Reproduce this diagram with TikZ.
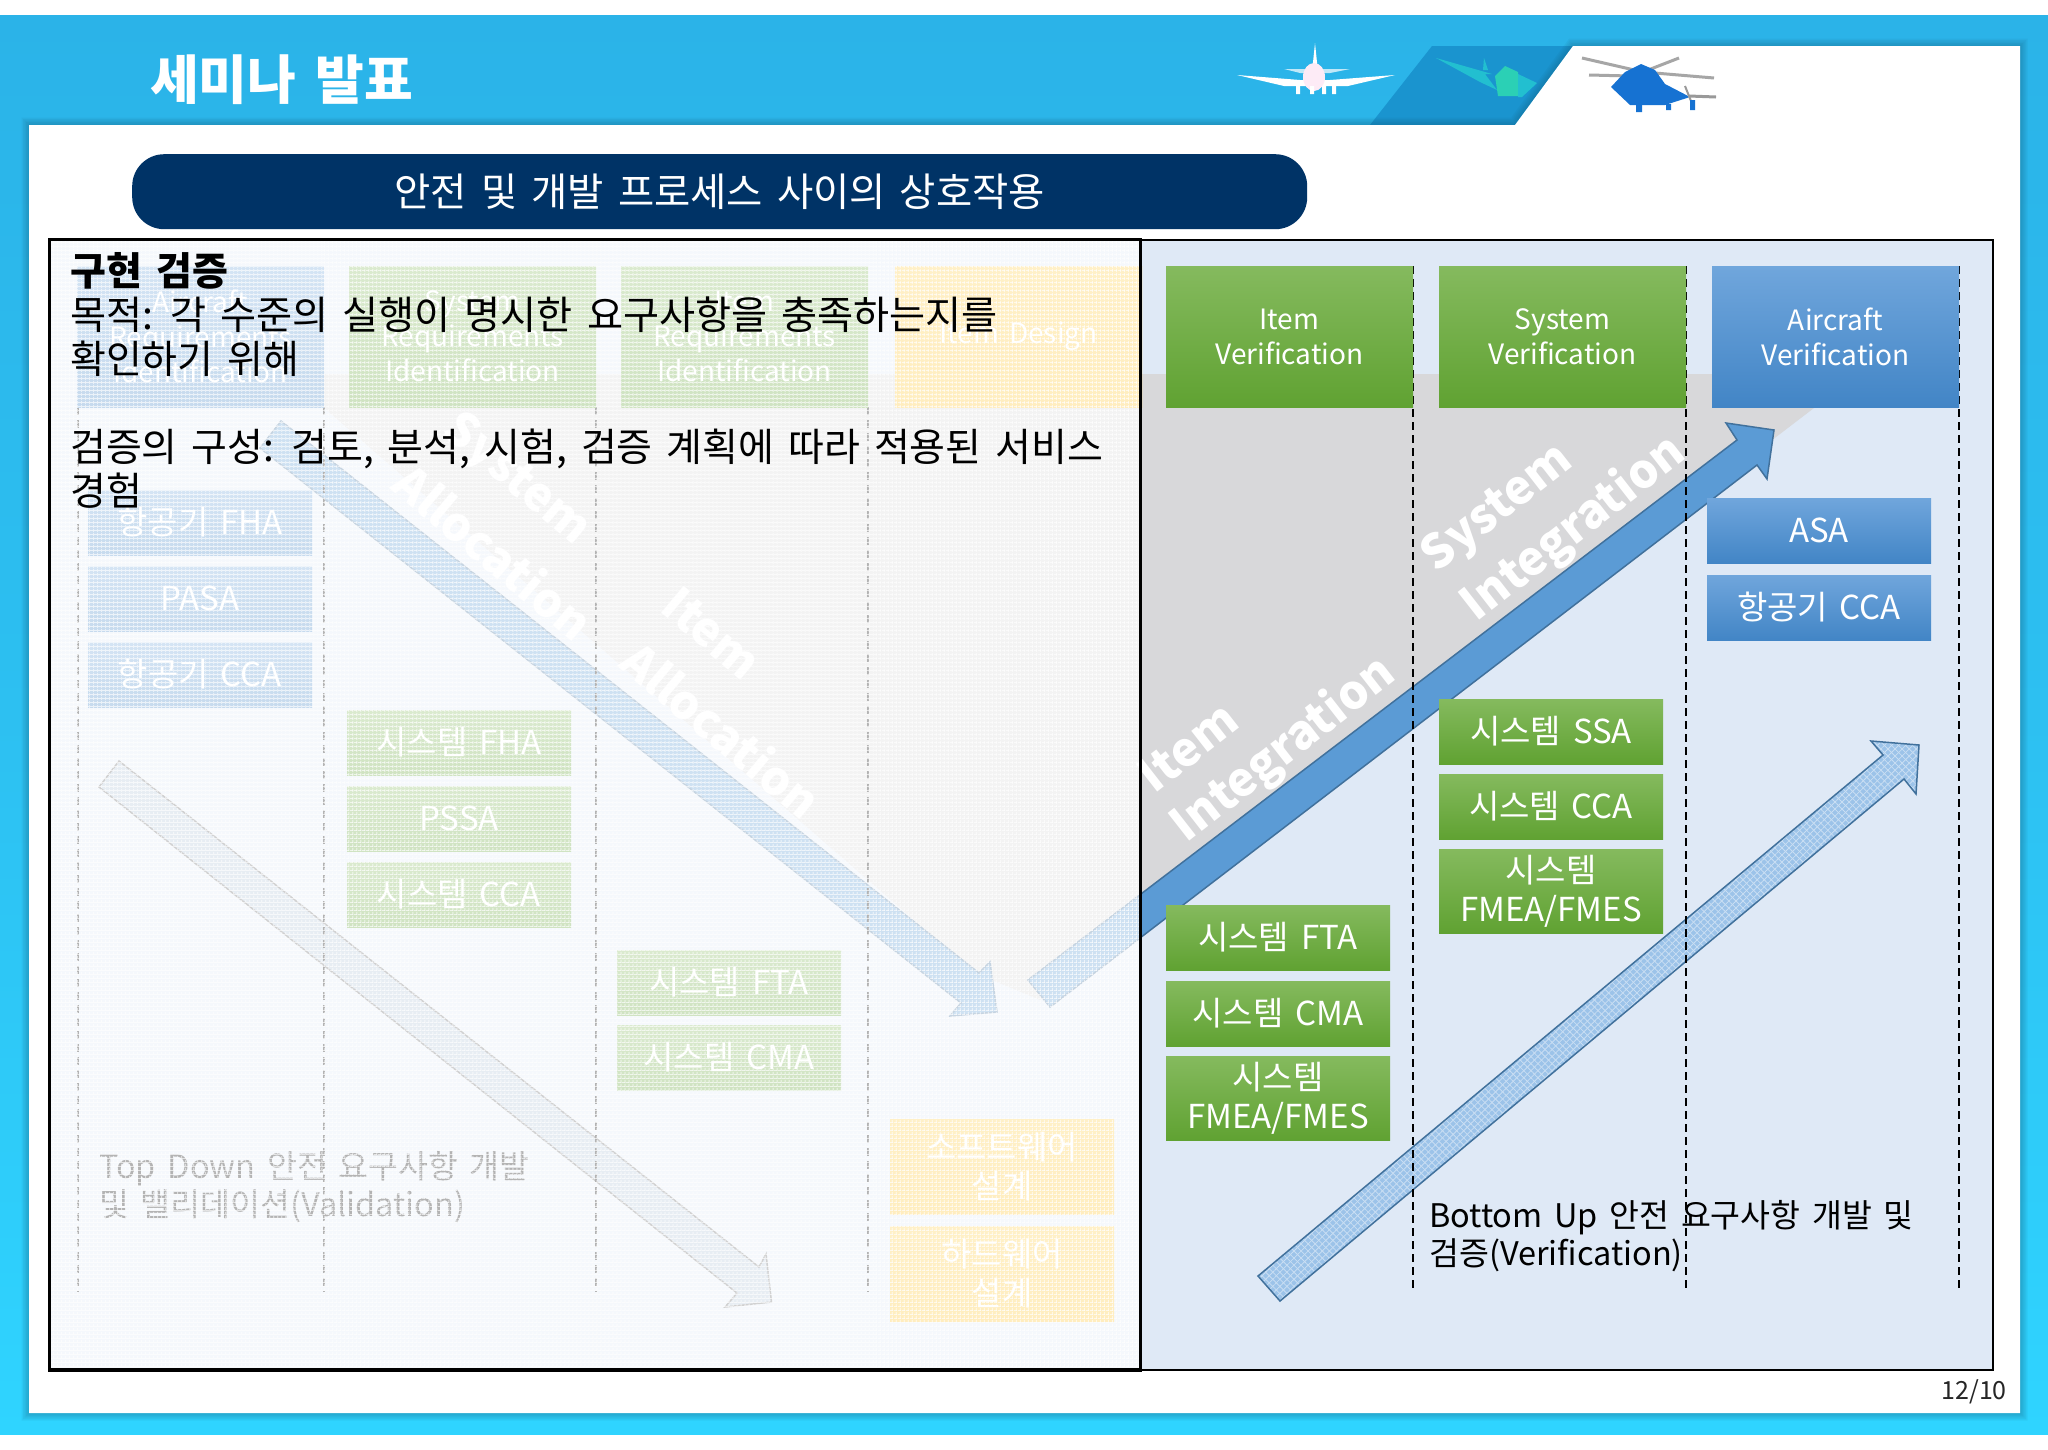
\documentclass[tikz,border=0pt]{standalone}
\usepackage{fontspec}
\setmainfont[WordSpace=1.6]{Noto Sans CJK KR}
\usetikzlibrary{shapes.geometric,patterns.meta}
\definecolor{bgtop}{HTML}{2BB3E8}
\definecolor{bgbot}{HTML}{2FD4FF}
\definecolor{bandc}{HTML}{1A94CF}
\definecolor{navy}{HTML}{003366}
\definecolor{panelc}{HTML}{DFE9F6}
\definecolor{greyc}{HTML}{D8D8DA}
\definecolor{gtop}{HTML}{85BA5E}
\definecolor{gbot}{HTML}{60A232}
\definecolor{btop}{HTML}{70A6DC}
\definecolor{bbot}{HTML}{4285C6}
\definecolor{ytop}{HTML}{FFCE45}
\definecolor{ybot}{HTML}{FFC52A}
\definecolor{arrowc}{HTML}{5B9BD5}
\definecolor{arrowe}{HTML}{41719C}
\definecolor{lightc}{HTML}{9CC3E9}
\definecolor{paleg}{HTML}{AFC3DA}
\definecolor{shadec}{HTML}{145F7E}
\definecolor{heli}{HTML}{1672D2}
\definecolor{tealw}{HTML}{22BFD0}
\definecolor{tealb}{HTML}{2BD0B5}
\tikzset{
  x=1pt,y=-1pt,
  base/.style={rectangle,inner sep=0pt,outer sep=0pt,text=white,align=center,anchor=north west},
  head/.style={base,minimum width=247pt,minimum height=141pt,font=\fontsize{28}{35}\selectfont},
  small/.style={base,minimum width=224pt,minimum height=65pt,font=\fontsize{33}{39}\selectfont},
  greenf/.style={top color=gtop,bottom color=gbot},
  bluef/.style={top color=btop,bottom color=bbot},
  yellowf/.style={top color=ytop,bottom color=ybot},
  guide/.style={draw=black,line width=1.8pt,dash pattern=on 8pt off 5pt},
  sweep/.style={text=white,font=\fontsize{47}{54}\selectfont\bfseries,inner sep=0pt},
  plain/.style={anchor=west,inner sep=0pt,text=black,font=\fontsize{39}{44}\selectfont},
  note/.style={anchor=west,inner sep=0pt,text=black,font=\fontsize{32.5}{38}\selectfont},
}
\begin{document}
\begin{tikzpicture}
\useasboundingbox (0,0) rectangle (2048,1449);
\fill[white] (0,0) rectangle (2048,1449);
% slide background
\shade[top color=bgtop,bottom color=bgbot,middle color=bgtop!60!bgbot] (0,15) rectangle (2048,1434);
\fill[bandc] (1432,46) -- (1573,46) -- (1515,125) -- (1370,125) -- cycle;
% panel shadow
\foreach \w in {3,6,9,12,15}{
  \draw[shadec,opacity=0.08,line width=\w pt,line join=miter]
    (29,125) -- (1515,125) -- (1573,46) -- (2020,46) -- (2020,1413) -- (29,1413) -- cycle;}
% white panel
\fill[white] (29,125) -- (1515,125) -- (1573,46) -- (2020,46) -- (2020,1413) -- (29,1413) -- cycle;
% airliner
\fill[white] (1315,43) -- (1318,72) -- (1312,72) -- cycle;
\fill[white!70!bgtop] (1284,69) -- (1350,69) -- (1330,73) -- (1300,73) -- cycle;
\fill[white] (1237,75) -- (1300,80) -- (1330,80) -- (1395,75) -- (1348,86) -- (1284,86) -- cycle;
\fill[white!92!magenta] (1314,77) ellipse [x radius=11,y radius=14];
\fill[white] (1296,86) rectangle (1300,94) (1310,86) rectangle (1314,94) (1322,86) rectangle (1326,94) (1332,86) rectangle (1336,94);
% teal aircraft
\fill[tealw] (1436,58) -- (1492,74) -- (1485,74) -- (1497,90) -- (1480,82) -- cycle;
\fill[tealw] (1483,70) -- (1484,58) -- (1488,70) -- cycle;
\fill[tealb] (1495,76) -- (1505,66) -- (1518,72) -- (1518,96) -- (1498,96) -- cycle;
\fill[tealw] (1518,74) -- (1537,83) -- (1522,97) -- (1518,97) -- cycle;
% helicopter
\draw[gray!70,line width=3pt] (1582,58) -- (1643,72) -- (1679,58) (1643,72) -- (1714,78) (1589,75) -- (1630,76);
\fill[heli] (1611,87) -- (1625,72) -- (1641,64) -- (1655,70) -- (1665,84) -- (1690,97) -- (1665,105) -- (1630,105) -- cycle;
\draw[gray!80,line width=3pt] (1689,96) -- (1716,97);
\draw[gray!80,line width=2pt] (1685,86) -- (1693,106);
\fill[heli] (1636,104) rectangle (1642,112) (1666,104) rectangle (1671,110) (1690,100) rectangle (1695,110);

% title and banner
\node[text=white,anchor=west,inner sep=0pt,font=\fontsize{53}{60}\selectfont\bfseries] (title) at (150,80) {세미나 발표};
\node[fill=navy,rounded corners=32pt,minimum width=1175pt,minimum height=75pt,anchor=north west,inner sep=0pt,text=white,font=\fontsize{39.4}{44}\selectfont] (banner) at (132,154) {안전 및 개발 프로세스 사이의 상호작용};

% diagram ground (left half is veiled below)
\fill[panelc] (49,240) rectangle (1993,1370);
\fill[greyc] (285,374) -- (1712,374) -- (1712,408) -- (1814,408) -- (1040,1000) -- (975,973) -- cycle;

% arrows
\draw[fill=arrowc,draw=arrowe,line width=1.5pt] (281,421) -- (979,973) -- (990,962) -- (997,1012) -- (950,1016) -- (961,1003) -- (260,448) -- cycle;
\draw[fill=paleg,draw=black!60,line width=1.5pt] (119,761) -- (759,1267) -- (766,1254) -- (771.5,1302) -- (725,1307) -- (737,1293) -- (99,787) -- cycle;
\draw[fill=arrowc,draw=arrowe,line width=1.5pt] (1028,980) -- (1737,440) -- (1726,423) -- (1774,430) -- (1767,479) -- (1757,465) -- (1050,1007) -- cycle;
\path[fill=lightc] (1258,1276) -- (1883,755) -- (1871,741) -- (1919,745) -- (1916,794) -- (1904,779) -- (1280,1301) -- cycle;
\path[pattern={Lines[angle=45,distance=5pt,line width=0.8pt]},pattern color=white!45!lightc] (1258,1276) -- (1883,755) -- (1871,741) -- (1919,745) -- (1916,794) -- (1904,779) -- (1280,1301) -- cycle;
\path[pattern={Lines[angle=-45,distance=5pt,line width=0.8pt]},pattern color=white!45!lightc] (1258,1276) -- (1883,755) -- (1871,741) -- (1919,745) -- (1916,794) -- (1904,779) -- (1280,1301) -- cycle;
\draw[draw=arrowe,line width=1.5pt] (1258,1276) -- (1883,755) -- (1871,741) -- (1919,745) -- (1916,794) -- (1904,779) -- (1280,1301) -- cycle;

% column guides
\foreach \gx in {78,324,596,868}{\draw[guide] (\gx,407) -- (\gx,1292);}
\foreach \gx in {1413,1686,1959}{\draw[guide] (\gx,266) -- (\gx,1292);}

% sweep labels
\node[sweep,rotate=-40] (sa1) at (516,480) {System};
\node[sweep,rotate=-40] (sa2) at (494,551) {Allocation};
\node[sweep,rotate=-40] (ia1) at (712,633) {Item};
\node[sweep,rotate=-40] (ia2) at (722,729) {Allocation};
\node[sweep,rotate=38] (si1) at (1498,509) {System};
\node[sweep,rotate=38] (si2) at (1574,529) {Integration};
\node[sweep,rotate=38] (ii1) at (1188,747) {Item};
\node[sweep,rotate=38] (ii2) at (1284,750) {Integration};

% header boxes
\node[head,bluef] (h1) at (77,266) {Aircraft\\Requirements\\Identification};
\node[head,greenf] (h2) at (349,266) {System\\Requirements\\Identification};
\node[head,greenf] (h3) at (621,266) {Item\\Requirements\\Identification};
\node[head,yellowf] (h4) at (895,266) {Item Design};
\node[head,greenf] (h5) at (1166,266) {Item\\Verification};
\node[head,greenf] (h6) at (1439,266) {System\\Verification};
\node[head,bluef] (h7) at (1712,266) {Aircraft\\Verification};

% left boxes
\node[small,bluef] (a1) at (88,490) {항공기 FHA};
\node[small,bluef] (a2) at (88,566) {PASA};
\node[small,bluef] (a3) at (88,642) {항공기 CCA};
\node[small,greenf] (b1) at (347,710) {시스템 FHA};
\node[small,greenf] (b2) at (347,786) {PSSA};
\node[small,greenf] (b3) at (347,862) {시스템 CCA};
\node[small,greenf] (c1) at (617,950) {시스템 FTA};
\node[small,greenf] (c2) at (617,1025) {시스템 CMA};
\node[small,yellowf,minimum height=95pt] (d1) at (890,1119) {소프트웨어\\설계};
\node[small,yellowf,minimum height=95pt] (d2) at (890,1226) {하드웨어\\설계};
% right boxes
\node[small,bluef] (e1) at (1707,498) {ASA};
\node[small,bluef] (e2) at (1707,575) {항공기 CCA};
\node[small,greenf] (f1) at (1439,699) {시스템 SSA};
\node[small,greenf] (f2) at (1439,774) {시스템 CCA};
\node[small,greenf,minimum height=84pt] (f3) at (1439,849) {시스템\\FMEA/FMES};
\node[small,greenf] (g1) at (1166,905) {시스템 FTA};
\node[small,greenf] (g2) at (1166,981) {시스템 CMA};
\node[small,greenf,minimum height=84pt] (g3) at (1166,1056) {시스템\\FMEA/FMES};

% captions
\node[note,anchor=north west,align=left,text=black] (td) at (99,1151) {Top Down 안전 요구사항 개발\\및 밸리데이션(Validation)};
\node[note,anchor=north west,align=left] (bu) at (1429,1200) {Bottom Up 안전 요구사항 개발 및\\검증(Verification)};
\node[anchor=east,inner sep=0pt,text=black!85,font=\fontsize{25}{30}\selectfont] (pg) at (2007,1392) {12/10};

% frames and veil
\draw[black,line width=2.5pt] (1140,240) rectangle (1993,1370);
\fill[white,fill opacity=0.70] (49,239) rectangle (1140,1370);
\path[pattern={Lines[angle=0,distance=4pt,line width=0.6pt]},pattern color=white] (49,239) rectangle (1140,1370);
\path[pattern={Lines[angle=90,distance=4pt,line width=0.6pt]},pattern color=white] (49,239) rectangle (1140,1370);
\draw[black,line width=3pt] (49,239) rectangle (1140,1370);
\draw[black,line width=4pt] (49,1370) -- (1140,1370);

% foreground text
\node[plain,font=\fontsize{39}{44}\selectfont\bfseries] (t1) at (70,271) {구현 검증};
\node[plain,font=\fontsize{39.2}{44}\selectfont] (t2) at (70,315) {목적: 각 수준의 실행이 명시한 요구사항을 충족하는지를};
\node[plain] (t3) at (70,359) {확인하기 위해};
\node[plain] (t4) at (70,449) {검증의 구성: 검토, 분석, 시험, 검증 계획에 따라 적용된 서비스};
\node[plain] (t5) at (70,491) {경험};
\end{tikzpicture}
\end{document}
